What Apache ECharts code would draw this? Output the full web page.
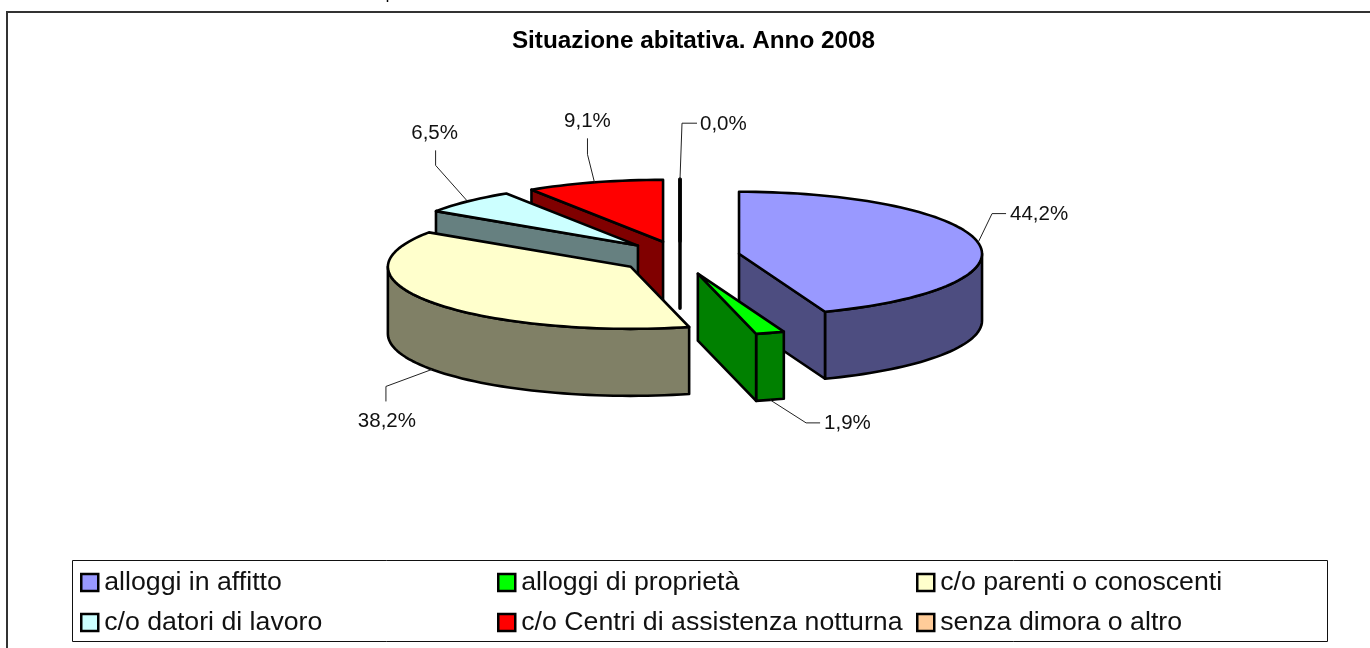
<!DOCTYPE html>
<html><head><meta charset="utf-8">
<style>html,body{margin:0;padding:0;background:#fff}#c{width:1370px;height:648px}</style>
<script src="https://cdn.jsdelivr.net/npm/echarts@6/dist/echarts.min.js"></script>
</head><body><div id="c"></div>
<script>
const categories = ['alloggi in affitto','alloggi di proprietà','c/o parenti o conoscenti','c/o datori di lavoro','c/o Centri di assistenza notturna','senza dimora o altro'];
const values = [44.2,1.9,38.2,6.5,9.1,0.0];
const labels = ['44,2%','1,9%','38,2%','6,5%','9,1%','0,0%'];
const topColors = ['#9999FF','#00FF00','#FFFFCC','#CCFFFF','#FF0000','#FFCC99'];
const wallColors = ['#4D4D80','#008000','#808066','#668080','#800000','#806650'];

// layout
const CX=680, CY=256.5, RX=243, RY=62, DEPTH=67, EXPLODE=60, EY_BACK=15.3, EY_FRONT=18;
const FONT='"Liberation Sans", Arial, sans-serif';
const paintOrder=[5,4,3,2,0,1];
const legendPos=[[80,569],[497,569],[916,569],[80,609],[497,609],[916,609]];
// leader bends and label position, relative to the leader's start on the slice
const leaders=[
  [[14,-29],[28,-29],[32,-28,'left']],
  [[36,23],[50,23],[54,23,'left']],
  [[-46,17],[-46,32],[-45,52,'center']],
  [[-32,-36],[-32,-51],[-33,-68,'center']],
  [[-7,-28],[-7,-44],[-7,-61,'center']],
  [[2,-56],[17,-56],[20,-55,'left']]
];
const total=values.reduce((a,b)=>a+b,0);
const D=Math.PI/180;
function renderSlice(i,api){
  const before=values.slice(0,i).reduce((a,b)=>a+b,0);
  const a0=before/total*360, a1=(before+api.value(0))/total*360, mid=(a0+a1)/2;
  const mc=Math.cos(mid*D), ex=Math.sin(mid*D)*EXPLODE, ey=-mc*(mc<0?EY_FRONT:EY_BACK);
  const ax=CX+ex, ay=CY+ey;
  const pt=(t,d)=>[ax+RX*Math.sin(t*D), ay-RY*Math.cos(t*D)+(d||0)];
  const arc=(s,e,d)=>{const n=Math.max(1,Math.ceil((e-s)/2)),r=[];for(let k=0;k<=n;k++)r.push(pt(s+(e-s)*k/n,d));return r;};
  const lw=a1-a0<0.01?3.5:2.6;
  const poly=(points,fill)=>({type:'polygon',shape:{points},style:{fill,stroke:'#000',lineWidth:lw,lineJoin:'round'}});
  const kids=[];
  const ws=Math.max(a0,90), we=Math.min(a1,270);
  if(we>ws){kids.push(poly(arc(ws,we,0).concat(arc(ws,we,DEPTH).reverse()),wallColors[i]));}
  const apex=[ax,ay], apexB=[ax,ay+DEPTH];
  const cut=t=>poly([apex,pt(t),pt(t,DEPTH),apexB],wallColors[i]);
  if(a0>180&&a0<360) kids.push(cut(a0));
  if(a1>0&&a1<=180) kids.push(cut(a1));
  if(a1-a0<0.01) kids.push(cut(a1));
  kids.push(poly([apex].concat(arc(a0,a1,0)),topColors[i]));
  // leader line and label
  const front=Math.cos(mid*D)<0&&Math.abs(Math.sin(mid*D))<0.9;
  const s=pt(mid,front?DEPTH:0), l=leaders[i];
  kids.push({type:'polyline',shape:{points:[s,[s[0]+l[0][0],s[1]+l[0][1]],[s[0]+l[1][0],s[1]+l[1][1]]]},style:{fill:'none',stroke:'#222',lineWidth:1}});
  kids.push({type:'text',style:{text:labels[i],x:s[0]+l[2][0],y:s[1]+l[2][1],align:l[2][2],verticalAlign:'middle',fill:'#111',font:'20.5px '+FONT}});
  return {type:'group',children:kids};
}
const option={
  backgroundColor:'#fff',
  animation:false,
  title:{text:'Situazione abitativa. Anno 2008',left:688.5,top:24,textAlign:'center',
    textStyle:{fontFamily:FONT,fontWeight:'bold',fontSize:24.3,color:'#000'}},
  legend:categories.map((c,i)=>({
    left:legendPos[i][0],top:legendPos[i][1],selectedMode:false,itemWidth:17,itemHeight:17,padding:0,
    data:[{name:c,icon:'rect',itemStyle:{color:topColors[i],borderColor:'#000',borderWidth:2.5}}],
    textStyle:{fontFamily:FONT,fontSize:26.7,color:'#111',padding:[0,0,0,1]}
  })),
  graphic:[
    {type:'rect',silent:true,z:0,shape:{x:7,y:12,width:1400,height:700},style:{fill:'none',stroke:'#333',lineWidth:2}},
    {type:'rect',silent:true,z:0,shape:{x:72.5,y:560.5,width:1255,height:81},style:{fill:'#fff',stroke:'#111',lineWidth:1}},
    {type:'line',silent:true,z:0,shape:{x1:387.5,y1:0,x2:387.5,y2:2},style:{stroke:'#000',lineWidth:1.5}}
  ],
  series:categories.map((c,i)=>({
    type:'custom',name:c,coordinateSystem:'none',silent:true,z:2+paintOrder.indexOf(i),
    itemStyle:{color:topColors[i]},
    data:[values[i]],
    renderItem:(p,api)=>renderSlice(i,api)
  }))
};
echarts.init(document.getElementById('c'),null,{renderer:'canvas'}).setOption(option);
</script></body></html>
